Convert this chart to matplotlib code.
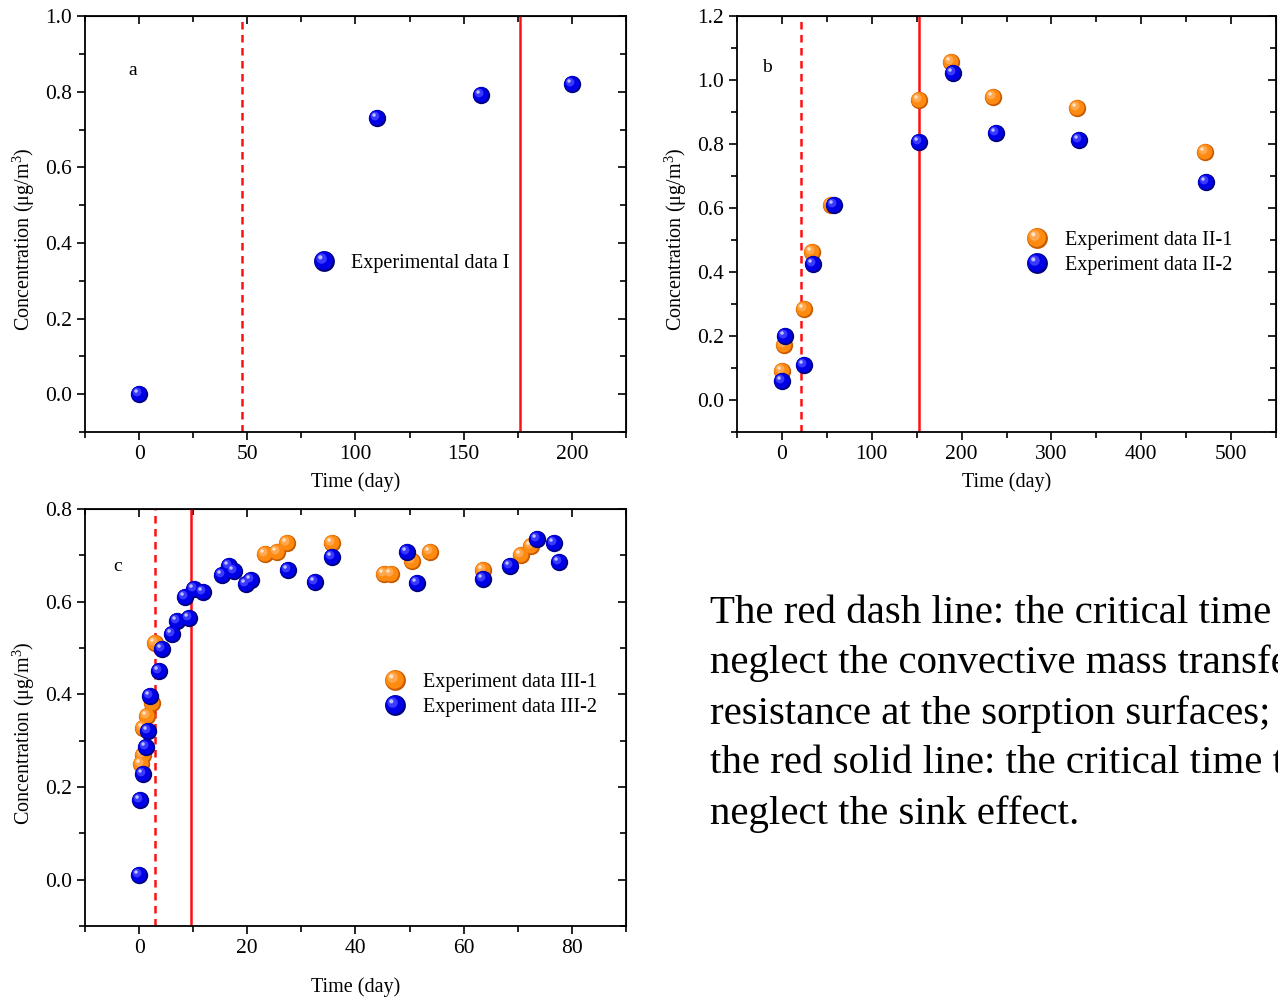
import numpy as np
import matplotlib
matplotlib.use("Agg")
import matplotlib.pyplot as plt
from matplotlib.path import Path
from matplotlib.ticker import MultipleLocator
from matplotlib.legend_handler import HandlerTuple

plt.rcParams['font.family'] = ['Liberation Serif', 'DejaVu Serif']
plt.rcParams['mathtext.fontset'] = 'custom'
plt.rcParams['mathtext.rm'] = 'Liberation Serif'

# ---- data: panel a
a_t = [0, 110, 158, 200]
a_c = [0.0, 0.73, 0.79, 0.82]
a_dash, a_solid = 47.5, 176

# ---- data: panel b
b1_t = [0, 2, 24, 34, 55, 152, 188, 235, 328, 471]
b1_c = [0.091, 0.173, 0.286, 0.462, 0.609, 0.939, 1.056, 0.946, 0.914, 0.776]
b2_t = [0, 3, 25, 35, 58, 153, 190, 238, 331, 472]
b2_c = [0.060, 0.201, 0.110, 0.424, 0.609, 0.807, 1.021, 0.833, 0.814, 0.682]
b_dash, b_solid = 21, 153

# ---- data: panel c
c1_t = [0.37, 0.8, 0.8, 1.43, 2.41, 3.02, 23.2, 25.5, 27.4, 35.6, 45.2, 46.6,
        50.5, 53.8, 63.6, 70.6, 72.5]
c1_c = [0.249, 0.270, 0.328, 0.354, 0.382, 0.512, 0.704, 0.707, 0.726, 0.726,
        0.659, 0.659, 0.688, 0.707, 0.668, 0.701, 0.721]
c2_t = [0.0, 0.24, 0.74, 1.24, 1.67, 2.09, 3.65, 4.26, 6.17, 7.09, 9.2, 8.57,
        10.24, 11.8, 15.4, 16.7, 17.6, 19.7, 20.6, 27.5, 32.5, 35.6, 49.5, 51.4,
        63.5, 68.6, 73.5, 76.7, 77.7]
c2_c = [0.010, 0.173, 0.229, 0.286, 0.320, 0.397, 0.451, 0.499, 0.531, 0.558,
        0.565, 0.610, 0.628, 0.621, 0.657, 0.677, 0.667, 0.638, 0.646, 0.668,
        0.643, 0.696, 0.708, 0.640, 0.650, 0.677, 0.735, 0.727, 0.685]
c_dash, c_solid = 3.0, 9.6

note = ("The red dash line: the critical time to\n"
        "neglect the convective mass transfer\n"
        "resistance at the sorption surfaces;\n"
        "the red solid line: the critical time to\n"
        "neglect the sink effect.")

BLUE = ['#00007a', '#0000e6', '#3a3aff', '#c0c0ff']
ORANGE = ['#c85a00', '#ff8a10', '#ffa850', '#ffe4c8']
MS = 12.5


def _shifted_circle(c, r):
    p = Path.unit_circle()
    return Path(p.vertices * r + np.array([-c, c]), p.codes)

# (offset, radius) of each shading layer, base circle radius = 1
LAYERS = [(0.0, 1.0), (0.08, 0.88), (0.28, 0.5), (0.4, 0.2)]


def sphere(ax, x, y, colors):
    arts = []
    for (c, r), col in zip(LAYERS, colors):
        ln, = ax.plot(x, y, ls='none', marker=_shifted_circle(c, r),
                      markersize=MS * (c + r), color=col, mec='none', zorder=3)
        arts.append(ln)
    return tuple(arts)


def style(ax, xmaj, xmin, ymaj, ymin):
    ax.xaxis.set_major_locator(MultipleLocator(xmaj))
    ax.xaxis.set_minor_locator(MultipleLocator(xmin))
    ax.yaxis.set_major_locator(MultipleLocator(ymaj))
    ax.yaxis.set_minor_locator(MultipleLocator(ymin))
    ax.tick_params(which='major', direction='out', length=6, width=1.2, labelsize=15.5)
    ax.tick_params(which='minor', direction='out', length=4, width=1.2)
    for s in ax.spines.values():
        s.set_linewidth(1.3)
    top = ax.secondary_xaxis('top')
    top.xaxis.set_major_locator(MultipleLocator(xmaj))
    top.xaxis.set_minor_locator(MultipleLocator(xmin))
    top.tick_params(which='both', direction='in', labeltop=False, width=1.2)
    top.tick_params(which='major', length=6)
    top.tick_params(which='minor', length=4)
    right = ax.secondary_yaxis('right')
    right.yaxis.set_major_locator(MultipleLocator(ymaj))
    right.yaxis.set_minor_locator(MultipleLocator(ymin))
    right.tick_params(which='both', direction='in', labelright=False, width=1.2)
    right.tick_params(which='major', length=6)
    right.tick_params(which='minor', length=4)
    ax.set_xlabel('Time (day)', fontsize=14.5, labelpad=6)
    ax.set_ylabel(r'Concentration ($\mathrm{\mu}$g/m$^3$)', fontsize=14.5)
    ax.yaxis.set_label_coords(-0.089, 0.463)


def vlines(ax, xd, xs):
    ax.axvline(xd, color='#ff1010', lw=1.8, ls=(0, (3, 2.2)), zorder=2)
    ax.axvline(xs, color='#ff1010', lw=1.8, zorder=2)


def add_legend(ax, handles, labels, anchor):
    ax.legend(handles, labels, handler_map={tuple: HandlerTuple(ndivide=1)},
              frameon=False, fontsize=14.5, markerscale=1.2, loc='center left',
              bbox_to_anchor=anchor, handletextpad=0.75, handlelength=1.2,
              labelspacing=0.3, borderpad=0)


fig = plt.figure(figsize=(12.78, 9.98), dpi=100)
ax_a = fig.add_axes([0.0665, 0.5671, 0.4233, 0.4168])
ax_b = fig.add_axes([0.5767, 0.5671, 0.4218, 0.4168])
ax_c = fig.add_axes([0.0665, 0.0721, 0.4233, 0.4178])

# panel a
vlines(ax_a, a_dash, a_solid)
ha = sphere(ax_a, a_t, a_c, BLUE)
ax_a.set_xlim(-25, 225)
ax_a.set_ylim(-0.1, 1.0)
style(ax_a, 50, 25, 0.2, 0.1)
ax_a.text(-2.8, 0.857, 'a', fontsize=14, ha='center', va='center')
add_legend(ax_a, [ha], ['Experimental data I'], (0.40, 0.406))

# panel b
vlines(ax_b, b_dash, b_solid)
hb1 = sphere(ax_b, b1_t, b1_c, ORANGE)
hb2 = sphere(ax_b, b2_t, b2_c, BLUE)
ax_b.set_xlim(-50, 550)
ax_b.set_ylim(-0.1, 1.2)
style(ax_b, 100, 50, 0.2, 0.1)
ax_b.text(-16.6, 1.04, 'b', fontsize=14, ha='center', va='center')
add_legend(ax_b, [hb1, hb2], ['Experiment data II-1', 'Experiment data II-2'],
           (0.516, 0.43))

# panel c
vlines(ax_c, c_dash, c_solid)
hc1 = sphere(ax_c, c1_t, c1_c, ORANGE)
hc2 = sphere(ax_c, c2_t, c2_c, BLUE)
ax_c.set_xlim(-10, 90)
ax_c.set_ylim(-0.1, 0.8)
style(ax_c, 20, 10, 0.2, 0.1)
ax_c.xaxis.labelpad = 14
ax_c.text(-3.9, 0.675, 'c', fontsize=14, ha='center', va='center')
add_legend(ax_c, [hc1, hc2], ['Experiment data III-1', 'Experiment data III-2'],
           (0.533, 0.555))

fig.text(0.5556, 1 - 595 / 998, note, fontsize=29.4, va='top', ha='left',
         linespacing=1.45)

fig.savefig('out.png', dpi=100)
